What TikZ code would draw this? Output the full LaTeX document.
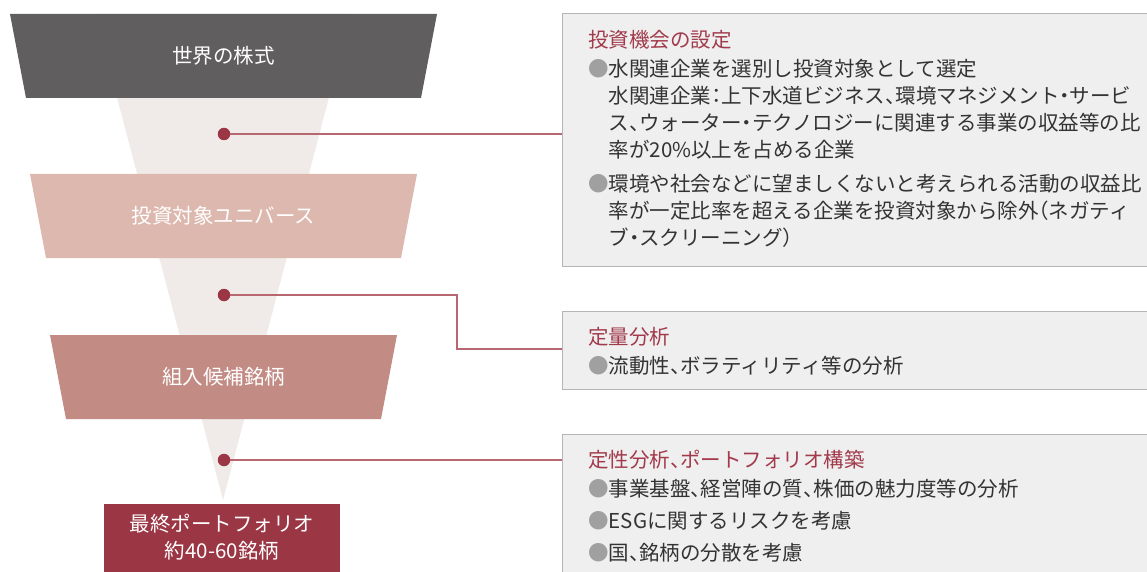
\documentclass[tikz,border=0pt]{standalone}
\usepackage{fontspec}
\setmainfont{Noto Sans CJK JP}[RawFeature={+halt}]
\definecolor{cWorld}{HTML}{605E5F}
\definecolor{cUniv}{HTML}{DDB8AE}
\definecolor{cCand}{HTML}{C28B84}
\definecolor{cFinal}{HTML}{9B3644}
\definecolor{cFunnel}{HTML}{F0EBE9}
\definecolor{cLink}{HTML}{B8666F}
\definecolor{cPanel}{HTML}{EFEFEF}
\definecolor{cPanelB}{HTML}{B5B5B5}
\definecolor{cTitle}{HTML}{A23A4B}
\definecolor{cText}{HTML}{333333}
\definecolor{cBul}{HTML}{A0A0A0}
\tikzset{
	lbl/.style={text=white, inner sep=0pt, font=\fontsize{20.5}{27}\selectfont},
	dot/.style={circle, fill=cFinal, inner sep=0pt, minimum size=12.5pt},
	link/.style={draw=cLink, line width=1.3pt},
	panel/.style={draw=cPanelB, fill=cPanel, line width=1.2pt, inner sep=0pt, anchor=north west},
	ttl/.style={text=cTitle, anchor=base west, inner sep=0pt, font=\fontsize{20.5}{27}\selectfont},
	txt/.style={text=cText, anchor=base west, inner sep=0pt, font=\fontsize{20.5}{27}\selectfont},
}
\newcommand{\bul}{\makebox[20.5pt][l]{\textcolor{cBul}{●}}}
\newcommand{\ind}{\hspace*{20.5pt}}
\begin{document}
\begin{tikzpicture}[x=1pt,y=-1pt]
	\useasboundingbox (0,0) rectangle (1147,572);
	\fill[cFunnel] (95,14) -- (351,14) -- (223,500) -- cycle;% nền phễu
	\foreach \yt/\hw/\c/\t/\n in {14/213.5/cWorld/世界の株式/world,174/193.5/cUniv/投資対象ユニバース/univ,335/173.5/cCand/組入候補銘柄/cand}% 3 tầng
	{\fill[\c] (223.5-\hw,\yt) -- (223.5+\hw,\yt) -- (207.5+\hw,\yt+84) -- (239.5-\hw,\yt+84) -- cycle;
		\path (223.5,\yt+42) node[lbl] (\n) {\t};}
	\fill[cFinal] (104,504) rectangle (340,580);
	\path (222,537) node[lbl, align=center] (final) {最終ポートフォリオ\\約40-60銘柄};
	% các khung bên phải
	\node[panel, minimum width=600pt, minimum height=253pt] (p1) at (562,13) {};
	\node[panel, minimum width=600pt, minimum height=78pt] (p2) at (562,311) {};
	\node[panel, minimum width=600pt, minimum height=150pt] (p3) at (562,434) {};
	\foreach \y [count=\i] in {134,295,460}
	\path (224,\y) node[dot] (d\i) {};
	\coordinate (k2) at (457,349);
	\draw[link] (d1) -- (d1 -| p1.west);
	\draw[link] (d2) -| (k2) -- (k2 -| p2.west);
	\draw[link] (d3) -- (d3 -| p3.west);
	\foreach \t/\y [count=\i] in {投資機会の設定/48,定量分析/344,定性分析、ポートフォリオ構築/467}
	\path (588,\y) node[ttl] (t\i) {\t};
	\foreach \t/\y [count=\i] in {
		\bul 水関連企業を選別し投資対象として選定/77,
		\ind 水関連企業：上下水道ビジネス、環境マネジメント・サービ/104,
		\ind ス、ウォーター・テクノロジーに関連する事業の収益等の比/131,
		\ind 率が20\%以上を占める企業/158,
		\bul 環境や社会などに望ましくないと考えられる活動の収益比/191,
		\ind 率が一定比率を超える企業を投資対象から除外（ネガティ/218,
		\ind ブ・スクリーニング）/245,
		\bul 流動性、ボラティリティ等の分析/373,
		\bul 事業基盤、経営陣の質、株価の魅力度等の分析/496,
		\bul ESGに関するリスクを考慮/528,
		\bul 国、銘柄の分散を考慮/560}
	\path (588,\y) node[txt] (b\i) {\t};
\end{tikzpicture}
\end{document}
